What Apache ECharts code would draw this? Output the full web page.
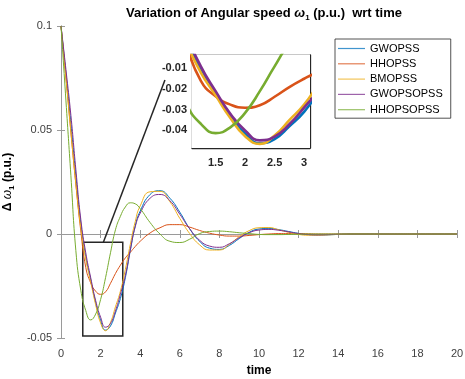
<!DOCTYPE html>
<html><head><meta charset="utf-8">
<script src="https://cdn.jsdelivr.net/npm/echarts@6/dist/echarts.min.js"></script>
<style>html,body{margin:0;padding:0;background:#fff}#c{width:465px;height:379px}</style>
</head><body><div id="c"></div>
<script>
const time = [0,0.25,0.5,0.75,1,1.25,1.5,1.75,2,2.25,2.5,2.75,3,3.25,3.5,3.75,4,4.5,5,5.5,6,6.5,7,7.5,8,8.5,9,9.5,10,10.5,11,11.5,12,12.5,13,13.5,14,15,16,17,18,19,20];
const GWOPSS = [0.1,0.077,0.053,0.028,0.005, -0.011,-0.022,-0.033,-0.0415, -0.0462,-0.0442,-0.038,-0.031,-0.021, -0.008,0.004,0.011,0.019,0.0208, 0.0172,0.0105,0.0025,-0.0035,-0.0068, -0.0074,-0.0055,-0.0022,0.0008,0.0024, 0.0027,0.0021,0.0012,0.0003,-0.0003, -0.0005,-0.0004,-0.0002,0.0001,0, 0,0,0,0];
const HHOPSS = [0.1,0.075,0.049,0.024,0.0015, -0.016,-0.0235,-0.0275,-0.029, -0.0278,-0.0237,-0.019,-0.015,-0.0115, -0.0088,-0.006,-0.0035,0.0005,0.003, 0.0045,0.0045,0.0033,0.0017,0.0004, -0.0005,-0.001,-0.001,-0.0007,-0.0003, 0,0.0002,0.0002,0.0002,0.0001, 0,0,0,0,0, 0,0,0,0];
const BMOPSS = [0.1,0.075,0.049,0.024,0.003, -0.012,-0.023,-0.034,-0.0428, -0.0465,-0.0425,-0.035,-0.0275,-0.017, -0.005,0.006,0.0135,0.0203,0.0205, 0.0155,0.0075,0.0002,-0.0052,-0.0077, -0.0077,-0.005,-0.0013,0.0016,0.003, 0.0031,0.002,0.0008,-0.0002,-0.0006, -0.0006,-0.0004,-0.0002,0.0001,0, 0,0,0,0];
const GWOPSOPSS = [0.1,0.079,0.057,0.031,0.007, -0.009,-0.021,-0.032,-0.040, -0.0448,-0.043,-0.037,-0.029,-0.020, -0.0075,0.0035,0.010,0.0172,0.019, 0.016,0.0095,0.0025,-0.003,-0.0058, -0.0064,-0.0047,-0.0018,0.0006,0.0019, 0.0022,0.0018,0.001,0.0002,-0.0003, -0.0004,-0.0003,-0.0001,0,0, 0,0,0,0];
const HHOPSOPSS = [0.1,0.064,0.028,-0.008,-0.027, -0.0368,-0.0413,-0.0385,-0.0315, -0.021,-0.009,0.002,0.0085,0.013, 0.015,0.0145,0.0122,0.0055,0.000, -0.0035,-0.0041,-0.0025,0.0002,0.0012, 0.0014,0.0011,0.0006,0.0002,-0.0002, -0.0003,-0.0003,-0.0002,-0.0001,0, 0,0,0,0,0, 0,0,0,0];
const seriesNames = ['GWOPSS','HHOPSS','BMOPSS','GWOPSOPSS','HHOPSOPSS'];
const seriesValues = [GWOPSS, HHOPSS, BMOPSS, GWOPSOPSS, HHOPSOPSS];
const colors = ['#0072BD','#D95319','#EDB120','#7E2F8E','#77AC30'];
const xTicksMain = [0,20,2];
const yTicksMain = [-0.05,0.1,0.05];
const insetX = [1.1,3.1];
const insetY = [-0.0485,-0.0035];
const insetXTicks = [1.5,2,2.5,3];
const insetYTicks = [-0.04,-0.03,-0.02,-0.01];
const zoomBox = [[1.1,-0.004],[3.12,-0.049]];
const pointer = [[2.14,-0.004],[5.25,0.074]];

const FONT = 'Liberation Sans, Arial, Helvetica, sans-serif';
const axisGray = '#9a9a9a';
const lblGray = '#404040';

function mkPairs(v){ return time.map((t,i)=>[t,v[i]]); }

const xAxes = [
  {gridIndex:0,type:'value',min:xTicksMain[0],max:xTicksMain[1],interval:xTicksMain[2],position:'bottom',
   axisLine:{lineStyle:{color:axisGray,width:1}},axisTick:{inside:true,length:4,lineStyle:{color:axisGray}},
   axisLabel:{color:lblGray,fontSize:11,fontFamily:FONT,margin:10},splitLine:{show:false},
   name:'time',nameLocation:'middle',nameGap:27,nameTextStyle:{fontWeight:'bold',fontSize:12,color:'#000',fontFamily:FONT}},
  {gridIndex:0,type:'value',min:xTicksMain[0],max:xTicksMain[1],interval:xTicksMain[2],position:'top',
   axisLine:{lineStyle:{color:axisGray,width:1}},axisTick:{inside:true,length:4,lineStyle:{color:axisGray}},
   axisLabel:{show:false},splitLine:{show:false}},
  {gridIndex:1,type:'value',min:insetX[0],max:insetX[1],position:'bottom',
   axisLine:{lineStyle:{color:'#262626',width:1.3}},
   axisTick:{inside:true,length:3,customValues:insetXTicks,lineStyle:{color:'#262626'}},
   axisLabel:{customValues:insetXTicks,color:'#262626',fontSize:11,fontWeight:'bold',fontFamily:FONT,margin:9},splitLine:{show:false}},
  {gridIndex:1,type:'value',min:insetX[0],max:insetX[1],position:'top',
   axisLine:{lineStyle:{color:'#262626',width:1.3}},
   axisTick:{inside:true,length:3,customValues:insetXTicks,lineStyle:{color:'#262626'}},
   axisLabel:{show:false},splitLine:{show:false}}
];
const yAxes = [
  {gridIndex:0,type:'value',min:yTicksMain[0],max:yTicksMain[1],interval:yTicksMain[2],position:'left',
   axisLine:{lineStyle:{color:axisGray,width:1}},axisTick:{inside:true,length:4,lineStyle:{color:axisGray}},
   axisLabel:{color:lblGray,fontSize:11,fontFamily:FONT,margin:9},splitLine:{show:false},
   name:'{a|Δ }{w|ω}{s|1}{a| (p.u.)}',nameLocation:'middle',nameGap:41,
   nameTextStyle:{fontFamily:FONT,color:'#000',rich:{
     a:{fontWeight:'bold',fontSize:12,fontFamily:FONT,color:'#000'},
     w:{fontStyle:'italic',fontSize:12,fontFamily:FONT,color:'#000'},
     s:{fontWeight:'bold',fontSize:8,fontFamily:FONT,color:'#000',padding:[8,0,0,0]}}}},
  {gridIndex:0,type:'value',min:yTicksMain[0],max:yTicksMain[1],interval:yTicksMain[2],position:'right',
   axisLine:{lineStyle:{color:axisGray,width:1}},axisTick:{inside:true,length:4,lineStyle:{color:axisGray}},
   axisLabel:{show:false},splitLine:{show:false}},
  {gridIndex:1,type:'value',min:insetY[0],max:insetY[1],position:'left',
   axisLine:{lineStyle:{color:'#262626',width:1.3}},
   axisTick:{inside:true,length:3,customValues:insetYTicks,lineStyle:{color:'#262626'}},
   axisLabel:{customValues:insetYTicks,color:'#262626',fontSize:11,fontWeight:'bold',fontFamily:FONT,margin:5},splitLine:{show:false}},
  {gridIndex:1,type:'value',min:insetY[0],max:insetY[1],position:'right',
   axisLine:{lineStyle:{color:'#262626',width:1.3}},
   axisTick:{inside:true,length:3,customValues:insetYTicks,lineStyle:{color:'#262626'}},
   axisLabel:{show:false},splitLine:{show:false}}
];

const series = [];
seriesNames.forEach((n,i)=>{
  const s = {name:n,type:'line',xAxisIndex:0,yAxisIndex:0,data:mkPairs(seriesValues[i]),
    showSymbol:false,symbol:'none',smooth:0.5,
    lineStyle:{color:colors[i],width:1},itemStyle:{color:colors[i]},z:2};
  if(i===0){
    s.markArea = {silent:true,itemStyle:{color:'rgba(0,0,0,0)',borderColor:'#262626',borderWidth:1.5},
      data:[[{coord:zoomBox[0]},{coord:zoomBox[1]}]]};
    s.markLine = {silent:true,symbol:['none','none'],label:{show:false},
      lineStyle:{color:'#262626',width:1.5,type:'solid'},
      data:[[{coord:pointer[0]},{coord:pointer[1]}]]};
  }
  series.push(s);
});
seriesNames.forEach((n,i)=>{
  series.push({name:n,type:'line',xAxisIndex:2,yAxisIndex:2,data:mkPairs(seriesValues[i]),
    showSymbol:false,symbol:'none',smooth:0.5,clip:true,
    lineStyle:{color:colors[i],width:2.6},itemStyle:{color:colors[i]},z:5});
});

const chart = echarts.init(document.getElementById('c'),null,{renderer:'canvas'});
chart.setOption({
  animation:false,
  backgroundColor:'#fff',
  title:{text:'{a|Variation of Angular speed }{w|ω}{s|1}{a| (p.u.)  wrt time}',left:259,top:0,textAlign:'center',
    textStyle:{fontFamily:FONT,rich:{
      a:{fontWeight:'bold',fontSize:13,fontFamily:FONT,color:'#000'},
      w:{fontStyle:'italic',fontSize:13,fontFamily:FONT,color:'#000'},
      s:{fontWeight:'bold',fontSize:8,fontFamily:FONT,color:'#000',padding:[9,0,0,0]}}}},
  legend:{data:seriesNames,orient:'vertical',left:335,top:39,icon:'rect',itemWidth:27,itemHeight:1.2,itemGap:2.3,
    padding:[3,8,2,3],backgroundColor:'#fff',borderColor:'#262626',borderWidth:0.8,
    itemStyle:{opacity:0.75},
    textStyle:{fontFamily:FONT,fontSize:11,color:'#000',lineHeight:13},z:10},
  grid:[
    {left:61,right:8,top:26,bottom:41,containLabel:false,outerBoundsMode:'none'},
    {left:192,top:55,width:118,height:93,show:true,backgroundColor:'#fff',borderWidth:0,z:4,containLabel:false,outerBoundsMode:'none'}
  ],
  xAxis:xAxes,
  yAxis:yAxes,
  series:series
});
</script></body></html>
